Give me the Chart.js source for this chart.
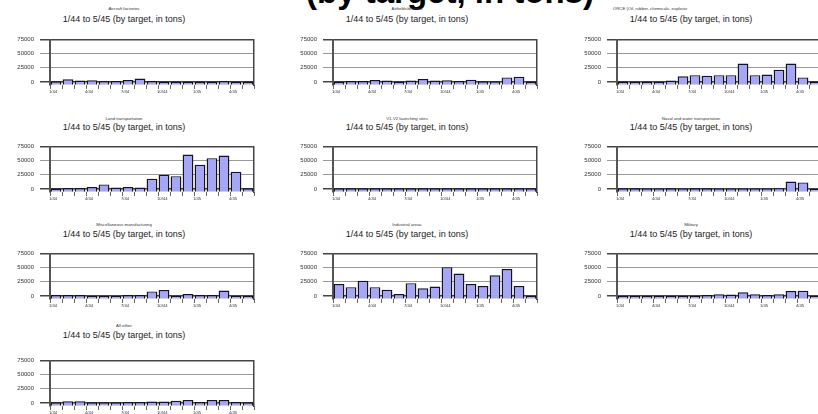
<!DOCTYPE html>
<html>
<head>
<meta charset="utf-8">
<script src="https://cdn.jsdelivr.net/npm/chart.js@4.4.1/dist/chart.umd.min.js"></script>
<style>
    html, body { margin: 0; padding: 0; background: #fff; overflow: hidden; width: 818px; height: 414px; }
    body { position: relative; font-family: 'Liberation Sans', Arial, sans-serif; }
    .big { position: absolute; left: 450px; top: -25px; transform: translateX(-50%); font-weight: bold; font-size: 33px; line-height: 33px; white-space: nowrap; color: #000; }
    .t { position: absolute; transform: translate(-50%, -50%); white-space: nowrap; color: #333; font-size: 4.3px; line-height: 5px; }
    .s { position: absolute; transform: translate(-50%, -50%); white-space: nowrap; color: #222; font-size: 9px; line-height: 10px; }
    canvas { position: absolute; }
</style>
</head>
<body>
<div class="big">(by target, in tons)</div>
<script>
const months = ['1/44', '2/44', '3/44', '4/44', '5/44', '6/44', '7/44', '8/44', '9/44',
    '10/44', '11/44', '12/44', '1/45', '2/45', '3/45', '4/45', '5/45'];
const shownMonths = ['1/44', '4/44', '7/44', '10/44', '1/45', '4/45'];
const yTicks = [0, 25000, 50000, 75000];
const subtitle = '1/44 to 5/45 (by target, in tons)';

const targets = ['Aircraft factories', 'Airfields/dromes', 'ORCE (Oil, rubber, chemicals, explosiv',
    'Land transportation', 'V1-V2 launching sites', 'Naval and water transportation',
    'Miscellaneous manufacturing', 'Industrial areas', 'Military', 'All other'];

const aircraftFactories = [1000, 4500, 2500, 3000, 1500, 1500, 3500, 6000, 1500, 500, 500, 500, 500, 500, 1500, 500, 500];
const airfields = [500, 1500, 1500, 3500, 2500, 500, 2500, 5000, 2500, 3000, 1500, 4000, 1000, 1000, 8000, 9000, 500];
const orce = [500, 300, 300, 300, 2500, 10000, 12000, 11000, 12000, 12000, 32500, 12000, 13000, 21500, 32500, 8000, 500];
const landTransport = [500, 1500, 1500, 3500, 8000, 2500, 3500, 2500, 18000, 25000, 22500, 61000, 43000, 54500, 59000, 30500, 1000];
const v1v2Sites = [1000, 1000, 1000, 1000, 1000, 1000, 1000, 1000, 1000, 1000, 1000, 1000, 1000, 1000, 1000, 1000, 1000];
const navalTransport = [1000, 1000, 800, 800, 1000, 800, 1000, 1000, 800, 800, 800, 800, 800, 1200, 13000, 11500, 0];
const miscManufacturing = [1500, 1500, 1500, 0, 0, 0, 1500, 1500, 8000, 10500, 0, 3500, 1500, 1500, 9500, 0, 0];
const industrialAreas = [21000, 15500, 27000, 15500, 11000, 3500, 22500, 13500, 16500, 51000, 39500, 21000, 17500, 36500, 47500, 17500, 0];
const military = [0, 0, 0, 0, 0, 0, 0, 1500, 3000, 2500, 6500, 3000, 1500, 3000, 8500, 9000, 0];
const allOther = [1000, 3000, 3000, 1000, 1000, 1000, 1500, 1500, 2500, 2500, 4000, 5000, 1500, 5000, 5000, 1500, 1000];

const series = [aircraftFactories, airfields, orce, landTransport, v1v2Sites, navalTransport,
    miscManufacturing, industrialAreas, military, allOther];

// panel placement
const plotLefts = [50, 333, 617];
const plotTops = [34, 141, 248, 355];
const titleYs = [8.3, 117.5, 224, 325];
const subtitleYs = [18.7, 127.3, 234, 335];
const family = "'Liberation Sans', Arial, sans-serif";

function addText(cls, text, x, y) {
    const d = document.createElement('div');
    d.className = cls;
    d.textContent = text;
    d.style.left = x + 'px';
    d.style.top = y + 'px';
    document.body.appendChild(d);
}

targets.forEach((name, i) => {
    const col = i % 3;
    const row = Math.floor(i / 3);
    const left = plotLefts[col];
    const top = plotTops[row];

    addText('t', name, left + (i === 2 ? 33 : 74), titleYs[row]);
    addText('s', subtitle, left + 74, subtitleYs[row]);

    const cv = document.createElement('canvas');
    cv.width = 256;
    cv.height = 69;
    cv.style.left = (left - 50) + 'px';
    cv.style.top = (top - 4) + 'px';
    document.body.appendChild(cv);

    new Chart(cv, {
        type: 'bar',
        data: {
            labels: months,
            datasets: [{
                data: series[i],
                base: -5000,
                backgroundColor: '#a6a6f6',
                borderColor: '#151515',
                borderWidth: 1.4,
                barPercentage: 0.9,
                categoryPercentage: 1
            }]
        },
        options: {
            responsive: false,
            animation: false,
            layout: { padding: { top: 4, right: 2, left: 0, bottom: 0 } },
            plugins: { legend: { display: false }, tooltip: { enabled: false } },
            scales: {
                x: {
                    grid: { offset: true, drawOnChartArea: false, tickLength: 4, color: '#666' },
                    border: { display: false },
                    ticks: {
                        autoSkip: false,
                        maxRotation: 0,
                        align: 'start',
                        labelOffset: -7,
                        padding: 0,
                        color: '#333',
                        font: { size: 4.2, family: family },
                        callback: (v, idx) => shownMonths.includes(months[idx]) ? months[idx] : ''
                    },
                    afterFit: s => { s.height = 14; }
                },
                y: {
                    min: -5500,
                    max: 75000,
                    ticks: { padding: 6, color: '#333', font: { size: 6, family: family }, callback: v => String(v) },
                    afterBuildTicks: s => { s.ticks = yTicks.map(v => ({ value: v })); },
                    grid: {
                        tickLength: 10,
                        color: c => (c.tick && (c.tick.value === 0 || c.tick.value === 75000)) ? '#444' : '#999',
                        lineWidth: c => (c.tick && (c.tick.value === 0 || c.tick.value === 75000)) ? 1.5 : 1
                    },
                    border: { color: '#555', width: 2 },
                    afterFit: s => { s.width = 50; }
                },
                y2: {
                    position: 'right',
                    grid: { display: false },
                    ticks: { display: false },
                    border: { color: '#444', width: 1.5 },
                    afterFit: s => { s.width = 0; }
                }
            }
        }
    });
});
</script>
</body>
</html>
